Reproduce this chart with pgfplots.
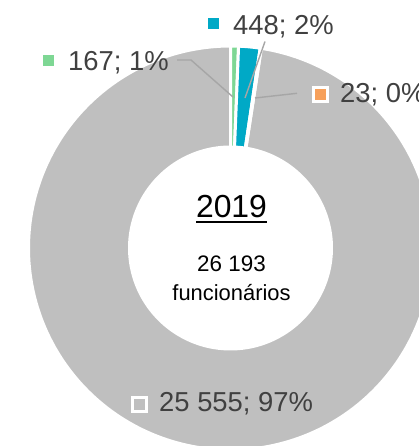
\documentclass[border=0pt]{standalone}
\usepackage{pgfplots}
\pgfplotsset{compat=1.18}
\usepackage{fontspec}
\setmainfont{Liberation Sans}
\definecolor{cgray}{HTML}{BFBFBF}
\definecolor{cteal}{HTML}{00A9C6}
\definecolor{cgreen}{HTML}{7ED794}
\definecolor{corange}{HTML}{F7A05A}
\definecolor{ctext}{HTML}{404040}
\definecolor{cline}{HTML}{A6A6A6}
\newcommand\key[2]{\raisebox{#2}{\setlength\fboxsep{0pt}\setlength\fboxrule{3bp}\fcolorbox{white}{#1}{\rule{0pt}{11bp}\rule{11bp}{0pt}}}}
\newcommand\ul[1]{\setbox0\hbox{#1}\rlap{\rule[-5bp]{\wd0}{1.8bp}}\box0}
% data (values)
\def\vGreen{167}
\def\vTeal{448}
\def\vOrange{23}
\def\vGray{25555}
% angles from the values
\edef\tot{\fpeval{\vGreen+\vTeal+\vOrange+\vGray}}
\def\aA{0}
\edef\aB{\fpeval{round(\vGreen/\tot*360,4)}}
\edef\aC{\fpeval{round((\vGreen+\vTeal)/\tot*360,4)}}
\edef\aD{\fpeval{round((\vGreen+\vTeal+\vOrange)/\tot*360,4)}}
\def\aE{360}
\def\cx{230.5}
\def\cy{198}
\def\R{202}
\def\Ri{102.5}
\begin{document}
\begin{tikzpicture}
\useasboundingbox (0,0) rectangle (419bp,446bp);
\clip (0,0) rectangle (419bp,446bp);
\begin{axis}[at={(0,0)}, anchor=south west, scale only axis, width=419bp, height=446bp,
  xmin=0, xmax=419, ymin=0, ymax=446, hide axis, clip=true]
% slices (clockwise from 12 o'clock)
\addplot[fill=cgray, draw=white, line width=3bp, domain=\aD:\aE, samples=240, variable=\t]
  ({\cx+\R*sin(\t)},{\cy+\R*cos(\t)}) -- (axis cs:\cx,\cy) -- cycle;
\addplot[fill=cgreen, draw=white, line width=3bp, domain=\aA:\aB, samples=10, variable=\t]
  ({\cx+\R*sin(\t)},{\cy+\R*cos(\t)}) -- (axis cs:\cx,\cy) -- cycle;
\addplot[fill=cteal, draw=white, line width=3bp, domain=\aB:\aC, samples=10, variable=\t]
  ({\cx+\R*sin(\t)},{\cy+\R*cos(\t)}) -- (axis cs:\cx,\cy) -- cycle;
\addplot[fill=corange, draw=white, line width=3bp, domain=\aC:\aD, samples=4, variable=\t]
  ({\cx+\R*sin(\t)},{\cy+\R*cos(\t)}) -- (axis cs:\cx,\cy) -- cycle;
% hole
\addplot[fill=white, draw=none, domain=0:360, samples=180, variable=\t]
  ({\cx+\Ri*sin(\t)},{\cy+\Ri*cos(\t)}) -- cycle;
% leader lines
\addplot[cline, line width=1.4bp] coordinates {(177,386) (191,386) (233,349)};
\addplot[cline, line width=1.4bp] coordinates {(265,404.5) (245,348)};
\addplot[cline, line width=1.4bp] coordinates {(297,352.7) (255,348)};
% labels
\node[anchor=base west, inner sep=0, text=ctext, font=\fontsize{27.5}{30}\selectfont] at (axis cs:40,375) {\key{cgreen}{5bp}\hspace{11bp}167; 1\%};
\node[anchor=base west, inner sep=0, text=ctext, font=\fontsize{27.5}{30}\selectfont] at (axis cs:205,411) {\key{cteal}{6bp}\hspace{11bp}448; 2\%};
\node[anchor=base west, inner sep=0, text=ctext, font=\fontsize{27.5}{30}\selectfont] at (axis cs:312,343) {\key{corange}{3bp}\hspace{11bp}23; 0\%};
\node[anchor=base west, inner sep=0, text=ctext, font=\fontsize{27.5}{30}\selectfont] at (axis cs:131,34) {\key{cgray}{2bp}\hspace{11bp}25 555; 97\%};
% centre
\node[anchor=base, inner sep=0, font=\fontsize{32}{36}\selectfont] at (axis cs:231.5,228) {\ul{2019}};
\node[anchor=base, inner sep=0, font=\fontsize{22.5}{26}\selectfont] at (axis cs:231.5,174) {26 193};
\node[anchor=base, inner sep=0, font=\fontsize{22}{26}\selectfont] at (axis cs:231.5,145) {funcionários};
\end{axis}
\end{tikzpicture}
\end{document}
